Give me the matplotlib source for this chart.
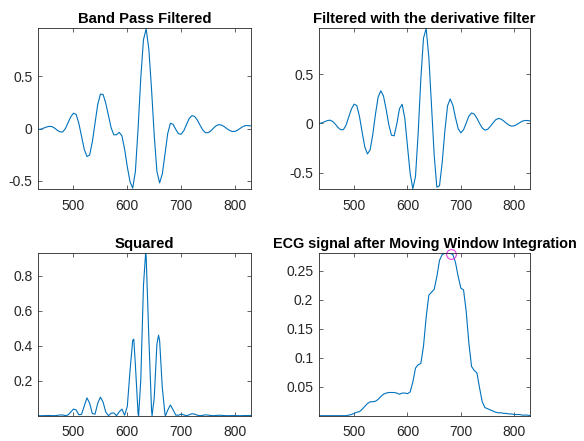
import numpy as np
import matplotlib
matplotlib.use("Agg")
import matplotlib.pyplot as plt

plt.rcParams['font.family'] = ['Liberation Sans', 'DejaVu Sans']
plt.rcParams['axes.unicode_minus'] = False

# sample index (every 5 samples)
samples = np.arange(435, 831, 5)

band_pass = [-0.009, -0.005, 0.005, 0.015, 0.021, 0.019, 0.004, -0.017, -0.032, -0.032,
             0.0, 0.057, 0.113, 0.147, 0.135, 0.048, -0.075, -0.199, -0.268, -0.253,
             -0.127, 0.051, 0.229, 0.33, 0.326, 0.242, 0.124, 0.006, -0.06, -0.059,
             -0.036, -0.07, -0.198, -0.366, -0.508, -0.57, -0.41, 0.0, 0.482, 0.849,
             0.955, 0.759, 0.377, -0.064, -0.41, -0.52, -0.434, -0.244, -0.049, 0.051,
             0.04, -0.008, -0.049, -0.055, -0.02, 0.039, 0.096, 0.124, 0.116, 0.082,
             0.033, -0.012, -0.039, -0.04, -0.023, 0.004, 0.027, 0.038, 0.033, 0.019,
             -0.001, -0.018, -0.028, -0.027, -0.015, 0.003, 0.02, 0.029, 0.028, 0.025]

derivative = [0.0, 0.006, 0.018, 0.029, 0.033, 0.02, -0.008, -0.042, -0.064, -0.063,
              -0.017, 0.066, 0.146, 0.195, 0.181, 0.073, -0.087, -0.236, -0.308, -0.267,
              -0.112, 0.093, 0.266, 0.33, 0.278, 0.143, -0.012, -0.119, -0.125, -0.004,
              0.149, 0.194, 0.052, -0.231, -0.506, -0.66, -0.537, -0.101, 0.45, 0.863,
              0.96, 0.668, 0.182, -0.32, -0.645, -0.63, -0.396, -0.078, 0.177, 0.248,
              0.184, 0.057, -0.054, -0.095, -0.064, 0.004, 0.073, 0.106, 0.095, 0.053,
              0.0, -0.045, -0.068, -0.06, -0.031, 0.004, 0.036, 0.05, 0.045, 0.026,
              0.003, -0.017, -0.027, -0.024, -0.01, 0.007, 0.023, 0.03, 0.029, 0.026]

sq_x = [435, 440, 445, 450, 455, 460, 465, 470, 475, 480,
        485, 490, 495, 500, 505, 510, 515, 520, 525, 530,
        535, 540, 545, 550, 555, 560, 565, 570, 575, 580,
        585, 590, 595, 600, 605, 610, 612, 615, 620, 621, 625, 630,
        634, 635, 640, 645, 646, 650, 655, 658, 660, 665, 670, 671,
        675, 680, 685, 690, 695, 700, 705, 710, 715, 720,
        725, 730, 735, 740, 745, 750, 755, 760, 765, 770,
        775, 780, 785, 790, 795, 800, 805, 810, 815, 820, 825, 830]
squared = [0.0, 0.0, 0.0003, 0.0008, 0.0011, 0.0004, 0.0001, 0.0018, 0.0041, 0.004,
           0.0003, 0.0044, 0.0213, 0.038, 0.0328, 0.0053, 0.0076, 0.0557, 0.102, 0.0713,
           0.0125, 0.0086, 0.0708, 0.106, 0.0773, 0.0204, 0.0001, 0.0142, 0.0156, 0.0,
           0.0222, 0.0376, 0.0027, 0.0534, 0.256, 0.43, 0.438, 0.29, 0.0102, 0.0, 0.2025, 0.745,
           0.928, 0.91, 0.446, 0.033, 0.0, 0.102, 0.41, 0.46, 0.43, 0.16, 0.0061, 0.0,
           0.0313, 0.0615, 0.0339, 0.0032, 0.0029, 0.009, 0.0041, 0.0, 0.0053, 0.0112,
           0.009, 0.0028, 0.0, 0.002, 0.0046, 0.0036, 0.001, 0.0, 0.0013, 0.0025,
           0.002, 0.0007, 0.0, 0.0003, 0.0007, 0.0006, 0.0001, 0.0, 0.0005, 0.0009, 0.0008, 0.0007]

mwi = [0.0, 0.0, 0.0, 0.0, 0.0, 0.0, 0.0, 0.0, 0.0, 0.0,
       0.0, 0.001, 0.002, 0.004, 0.006, 0.007, 0.011, 0.016, 0.021, 0.024,
       0.024, 0.025, 0.028, 0.033, 0.037, 0.039, 0.04, 0.04, 0.04, 0.039,
       0.037, 0.039, 0.039, 0.038, 0.041, 0.058, 0.082, 0.088, 0.09, 0.12,
       0.17, 0.208, 0.213, 0.218, 0.24, 0.268, 0.278, 0.28, 0.28, 0.28,
       0.278, 0.264, 0.24, 0.22, 0.217, 0.18, 0.125, 0.085, 0.078, 0.074,
       0.048, 0.024, 0.014, 0.012, 0.01, 0.008, 0.006, 0.005, 0.005, 0.004,
       0.004, 0.003, 0.003, 0.002, 0.002, 0.002, 0.001, 0.001, 0.001, 0.0]

# detected R peak on the integrated signal
peak_x = 681
peak_y = 0.279

blue = '#0072BD'
grey = '#262626'

fig = plt.figure(figsize=(5.84, 4.41), dpi=100)
fig.patch.set_facecolor('white')

def style(ax, title, ylim, yticks, tsize=10.7):
    ax.set_xlim(434, 830)
    ax.set_ylim(*ylim)
    ax.set_xticks([500, 600, 700, 800])
    ax.set_yticks(yticks)
    ax.set_yticklabels([('%g' % t) for t in yticks])
    ax.tick_params(direction='in', length=3, width=0.5, colors=grey,
                   labelsize=10, top=True, right=True)
    ax.tick_params(axis='x', pad=7)
    ax.tick_params(axis='y', pad=4)
    for s in ax.spines.values():
        s.set_color(grey)
        s.set_linewidth(0.6)
    ax.set_title(title, fontsize=tsize, fontweight='bold', color='black', pad=4)

ax1 = fig.add_axes([0.065, 0.571, 0.365, 0.365])
ax1.plot(samples, band_pass, color=blue, lw=0.8)
style(ax1, 'Band Pass Filtered', (-0.58, 0.96), [-0.5, 0, 0.5])

ax2 = fig.add_axes([0.546, 0.571, 0.362, 0.365])
ax2.plot(samples, derivative, color=blue, lw=0.8)
style(ax2, 'Filtered with the derivative filter', (-0.665, 0.963), [-0.5, 0, 0.5])

ax3 = fig.add_axes([0.065, 0.0574, 0.365, 0.368])
ax3.plot(sq_x, squared, color=blue, lw=0.8)
style(ax3, 'Squared', (0.0, 0.928), [0.2, 0.4, 0.6, 0.8])

ax4 = fig.add_axes([0.546, 0.0574, 0.362, 0.368])
ax4.plot(samples, mwi, color=blue, lw=0.8)
ax4.plot([peak_x], [peak_y], 'o', mfc='none', mec='#E040E0', ms=7, mew=0.8, clip_on=False)
style(ax4, 'ECG signal after Moving Window Integration', (0.0, 0.28),
      [0.05, 0.1, 0.15, 0.2, 0.25], tsize=10.4)

fig.savefig('out.png', dpi=100)
